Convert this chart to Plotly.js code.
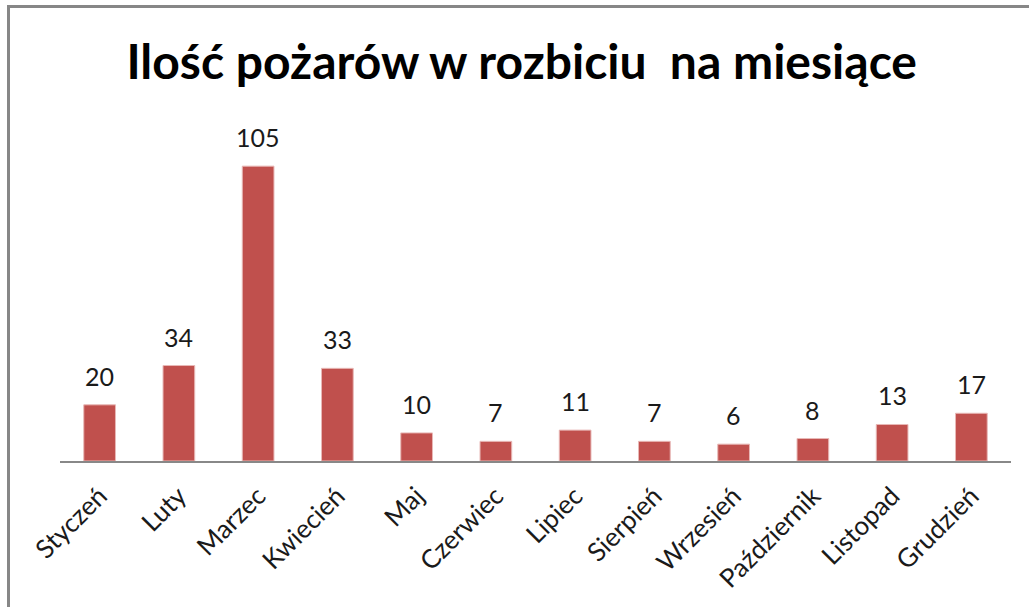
<!DOCTYPE html>
<html><head><meta charset="utf-8">
<script src="https://cdn.plot.ly/plotly-3.0.1.min.js"></script>
<style>
html,body{margin:0;padding:0;background:#fff;}
#frame{position:absolute;left:7px;top:5px;width:1040px;height:620px;border-left:3px solid #878787;border-top:3px solid #878787;pointer-events:none;}
#chart{width:1029px;height:607px;}
</style></head>
<body>
<div id="chart"></div>
<div id="frame"></div>
<script>
const months = ["Styczeń","Luty","Marzec","Kwiecień","Maj","Czerwiec","Lipiec","Sierpień","Wrzesień","Październik","Listopad","Grudzień"];
const fires = [20,34,105,33,10,7,11,7,6,8,13,17];
const titleText = "Ilość pożarów w rozbiciu&nbsp;&nbsp;na miesiące";

const annotations = months.map((m,i)=>({
  x:m, y:fires[i], xref:'x', yref:'y', text:String(fires[i]),
  showarrow:false, yanchor:'bottom', yshift:12,
  font:{family:'Lato, "Open Sans", sans-serif', size:25, color:'#1a1a1a'}
}));

Plotly.newPlot('chart',[{
  type:'bar', x:months, y:fires,
  marker:{color:'#C0504D', line:{color:'#E8B8B6', width:1}},
  hoverinfo:'none'
}],{
  width:1029, height:607,
  margin:{l:60, r:18, t:124, b:146},
  paper_bgcolor:'#fff', plot_bgcolor:'#fff',
  bargap:0.6,
  showlegend:false,
  title:{text:titleText, x:0.507, xanchor:'center', y:0.898, yanchor:'middle',
    font:{family:'Lato, "Open Sans", sans-serif', size:48, color:'#000', weight:'bold'}},
  xaxis:{type:'category', tickangle:-45, showline:true, linecolor:'#888', linewidth:1.5,
    ticks:'', showgrid:false, zeroline:false, ticklabelstandoff:8,
    tickfont:{family:'Lato, "Open Sans", sans-serif', size:26, color:'#1a1a1a'}},
  yaxis:{range:[0,120], visible:false, showgrid:false, zeroline:false},
  annotations:annotations
},{displayModeBar:false, staticPlot:true});
</script>
</body></html>
